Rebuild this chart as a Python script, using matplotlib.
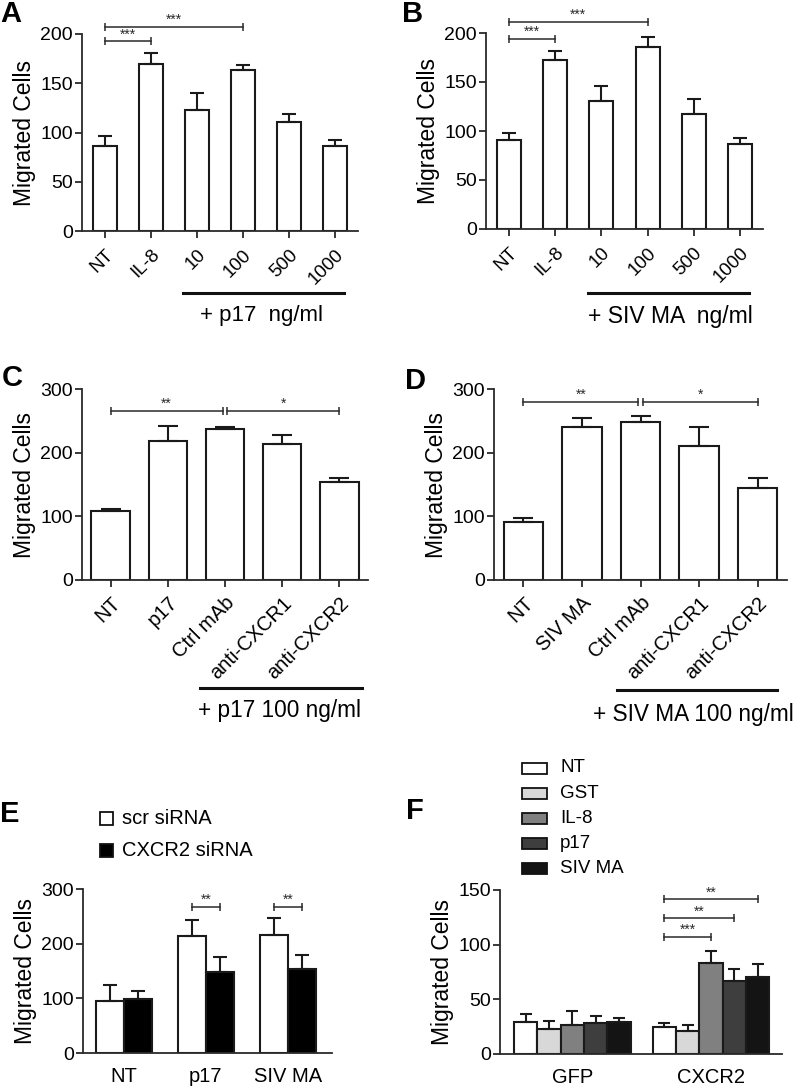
import matplotlib
matplotlib.use('Agg')
import matplotlib.pyplot as plt
from matplotlib.lines import Line2D
from matplotlib.patches import Rectangle
import numpy as np

plt.rcParams['font.family'] = ['Liberation Sans', 'DejaVu Sans']

W, H = 800, 1089

# ---------------- data ----------------
a_cats = ['NT', 'IL-8', '10', '100', '500', '1000']
a_vals = [86, 170, 123, 163, 111, 86]
a_errs = [10, 11, 17, 6, 8, 6]

b_cats = ['NT', 'IL-8', '10', '100', '500', '1000']
b_vals = [90.5, 172, 131, 185.5, 117, 86.5]
b_errs = [7, 10, 15, 10, 16, 6.5]

c_cats = ['NT', 'p17', 'Ctrl mAb', 'anti-CXCR1', 'anti-CXCR2']
c_vals = [109, 219, 237, 213.5, 154.5]
c_errs = [2, 23, 4, 14, 5.5]

d_cats = ['NT', 'SIV MA', 'Ctrl mAb', 'anti-CXCR1', 'anti-CXCR2']
d_vals = [91, 240, 247.5, 210.5, 145]
d_errs = [6, 14, 10, 29.5, 15]

e_groups = ['NT', 'p17', 'SIV MA']
e_series = ['scr siRNA', 'CXCR2 siRNA']
e_scr = [96, 214.5, 216.5]
e_scr_err = [27.5, 28, 31]
e_cx = [99, 147.5, 153.5]
e_cx_err = [15, 27.5, 25.5]

f_groups = ['GFP', 'CXCR2']
f_series = ['NT', 'GST', 'IL-8', 'p17', 'SIV MA']
f_nt = [29.6, 25.0]
f_gst = [22.6, 21.3]
f_il8 = [26.2, 83.2]
f_p17 = [28.0, 66.8]
f_siv = [29.3, 70.1]
f_nt_err = [6.7, 3.4]
f_gst_err = [7.6, 4.9]
f_il8_err = [13.4, 11.3]
f_p17_err = [6.8, 10.9]
f_siv_err = [3.3, 12.5]

a_sig = [(0, 1, 192.5, '***'), (0, 3, 207, '***')]
b_sig = [(0, 1, 194, '***'), (0, 3, 211.5, '***')]
c_sig = [(0, 1.96, 266, '**'), (2.04, 4, 266, '*')]
d_sig = [(0, 1.96, 280, '**'), (2.04, 4, 280, '*')]
e_sig = [(1, 267, '**'), (2, 267, '**')]
f_sig = [(2, 107, '***'), (3, 124, '**'), (4, 141.5, '**')]

# ---------------- style ----------------
AX_COL = '#2a2a2a'
EDGE = '#1a1a1a'
TICK_FS = 14
XT_FS = 14.5
LAB_FS = 16.5

fig = plt.figure(figsize=(W / 100, H / 100), dpi=100)


def add_ax(l, t, r, b):
    return fig.add_axes([l / W, 1 - b / H, (r - l) / W, (b - t) / H])


def style(ax, ylim, yticks, xlim):
    ax.set_ylim(*ylim)
    ax.set_xlim(*xlim)
    ax.set_yticks(yticks)
    for s in ['top', 'right']:
        ax.spines[s].set_visible(False)
    for s in ['left', 'bottom']:
        ax.spines[s].set_color(AX_COL)
        ax.spines[s].set_linewidth(1.3)
    ax.tick_params(axis='both', direction='out', length=5, width=1.3,
                   color=AX_COL, pad=1.5)
    ax.tick_params(axis='y', labelsize=TICK_FS)
    ax.tick_params(axis='x', labelsize=XT_FS)
    ax.set_ylabel('Migrated Cells', fontsize=LAB_FS, labelpad=3)


def bracket(ax, x0, x1, y, txt, fs=10):
    ax.plot([x0, x1], [y, y], color=AX_COL, lw=1.1, clip_on=False, zorder=5)
    ax.plot([x0, x1], [y, y], ls='none', marker='|', ms=6, mew=1.1,
            color=AX_COL, clip_on=False, zorder=5)
    ax.text((x0 + x1) / 2, y, txt, ha='center', va='bottom', fontsize=fs,
            color=AX_COL, clip_on=False)


def simple_bars(ax, cats, vals, errs, width, capsize):
    x = np.arange(len(cats))
    ax.bar(x, vals, width=width, color='white', edgecolor=EDGE, linewidth=1.5, zorder=2)
    ax.errorbar(x, vals, yerr=[np.zeros(len(vals)), errs], fmt='none',
                ecolor=EDGE, elinewidth=1.5, capsize=capsize, capthick=1.5, zorder=3)
    ax.set_xticks(x)
    ax.set_xticklabels(cats, rotation=45, ha='right', va='top',
                       rotation_mode='anchor')


def fig_line(x0, x1, y):
    fig.add_artist(Line2D([x0 / W, x1 / W], [1 - y / H, 1 - y / H],
                          color='#111111', lw=2.2))


def fig_text(x, y, s, fs, **kw):
    fig.text(x / W, 1 - y / H, s, fontsize=fs, **kw)


def xpad(ax, p):
    ax.tick_params(axis='x', pad=p)


# ---------------- A ----------------
axA = add_ax(82, 34, 358, 231)
simple_bars(axA, a_cats, a_vals, a_errs, 0.52, 4.7)
style(axA, (0, 200), [0, 50, 100, 150, 200], (-0.5, 5.5))
axA.tick_params(axis='x', labelsize=13.5)
xpad(axA, 6)
for x0, x1, y, t in a_sig:
    bracket(axA, x0, x1, y, t)
fig_line(183, 344, 293)
fig_text(200, 316, '+ p17  ng/ml', 16, va='center', ha='left')
fig_text(0, 0, 'A', 21, fontweight='bold', va='top', ha='left')

# ---------------- B ----------------
axB = add_ax(486, 33, 763, 229)
simple_bars(axB, b_cats, b_vals, b_errs, 0.52, 4.7)
style(axB, (0, 200), [0, 50, 100, 150, 200], (-0.5, 5.5))
axB.tick_params(axis='x', labelsize=13.5)
xpad(axB, 6)
for x0, x1, y, t in b_sig:
    bracket(axB, x0, x1, y, t)
fig_line(588, 749, 293)
fig_text(588, 316, '+ SIV MA  ng/ml', 16.5, va='center', ha='left')
fig_text(402, 0, 'B', 21, fontweight='bold', va='top', ha='left')

# ---------------- C ----------------
axC = add_ax(82, 389, 368, 580)
simple_bars(axC, c_cats, c_vals, c_errs, 0.67, 7)
style(axC, (0, 300), [0, 100, 200, 300], (-0.5, 4.5))
xpad(axC, 4.5)
for x0, x1, y, t in c_sig:
    bracket(axC, x0, x1, y, t)
fig_line(200, 362, 688)
fig_text(198, 711, '+ p17 100 ng/ml', 16.3, va='center', ha='left')
fig_text(2, 364, 'C', 21, fontweight='bold', va='top', ha='left')

# ---------------- D ----------------
axD = add_ax(494, 389, 787, 580)
simple_bars(axD, d_cats, d_vals, d_errs, 0.67, 7)
style(axD, (0, 300), [0, 100, 200, 300], (-0.5, 4.5))
xpad(axD, 4.5)
for x0, x1, y, t in d_sig:
    bracket(axD, x0, x1, y, t)
fig_line(617, 777, 690)
fig_text(593, 715, '+ SIV MA 100 ng/ml', 16.3, va='center', ha='left')
fig_text(405, 367, 'D', 21, fontweight='bold', va='top', ha='left')

# ---------------- E ----------------
axE = add_ax(83, 889, 332, 1053)
xe = np.arange(len(e_groups))
bw = 0.345
axE.bar(xe - bw / 2, e_scr, width=bw, color='white', edgecolor=EDGE, linewidth=1.5, zorder=2)
axE.bar(xe + bw / 2, e_cx, width=bw, color='black', edgecolor=EDGE, linewidth=1.5, zorder=2)
axE.errorbar(xe - bw / 2, e_scr, yerr=[np.zeros(3), e_scr_err], fmt='none', ecolor=EDGE,
             elinewidth=1.5, capsize=5, capthick=1.5, zorder=3)
axE.errorbar(xe + bw / 2, e_cx, yerr=[np.zeros(3), e_cx_err], fmt='none', ecolor=EDGE,
             elinewidth=1.5, capsize=5, capthick=1.5, zorder=3)
style(axE, (0, 300), [0, 100, 200, 300], (-0.5, 2.54))
axE.set_xticks(xe)
axE.set_xticklabels(e_groups)
axE.tick_params(axis='x', length=0, pad=10)
for g, y, t in e_sig:
    bracket(axE, g - bw / 2, g + bw / 2, y, t)
fig_text(0, 800, 'E', 21, fontweight='bold', va='top', ha='left')
# legend E
for i, (lab, col) in enumerate(zip(e_series, ['white', 'black'])):
    yc = 818 + i * 32
    fig.add_artist(Rectangle((100 / W, 1 - (yc + 6.5) / H), 13 / W, 13 / H,
                             transform=fig.transFigure, facecolor=col,
                             edgecolor='#111111', lw=1.3))
    fig_text(122, yc, lab, 14.5, va='center', ha='left')

# ---------------- F ----------------
axF = add_ax(500, 890, 782, 1054)
xf = np.arange(len(f_groups))
f_cols = ['white', '#d8d8d8', '#808080', '#3e3e3e', '#141414']
f_all = [f_nt, f_gst, f_il8, f_p17, f_siv]
f_all_err = [f_nt_err, f_gst_err, f_il8_err, f_p17_err, f_siv_err]
fw = 0.168
offs = (np.arange(5) - 2) * fw
for k in range(5):
    axF.bar(xf + offs[k], f_all[k], width=fw, color=f_cols[k], edgecolor=EDGE,
            linewidth=1.5, zorder=2)
    axF.errorbar(xf + offs[k], f_all[k], yerr=[np.zeros(2), f_all_err[k]], fmt='none',
                 ecolor=EDGE, elinewidth=1.5, capsize=4.5, capthick=1.5, zorder=3)
style(axF, (0, 150), [0, 50, 100, 150], (-0.52, 1.51))
axF.set_xticks(xf)
axF.set_xticklabels(f_groups)
axF.tick_params(axis='x', length=0, pad=10)
for k, y, t in f_sig:
    bracket(axF, 1 + offs[0], 1 + offs[k], y, t)
fig_text(406, 797, 'F', 21, fontweight='bold', va='top', ha='left')
for i, (lab, col) in enumerate(zip(f_series, f_cols)):
    yc = 768 + i * 25.2
    fig.add_artist(Rectangle((522 / W, 1 - (yc + 5.5) / H), 25 / W, 11 / H,
                             transform=fig.transFigure, facecolor=col,
                             edgecolor='#111111', lw=1.3))
    fig_text(560, yc, lab, 13.5, va='center', ha='left')

fig.savefig('out.png', dpi=100)
